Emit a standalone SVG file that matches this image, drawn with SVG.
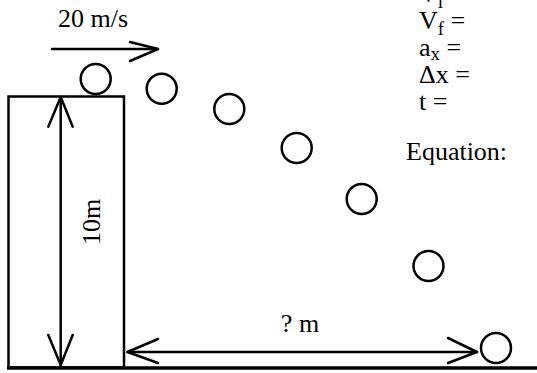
<svg xmlns="http://www.w3.org/2000/svg" width="537" height="373" viewBox="0 0 537 373">
<style>
.t{font-family:"Liberation Serif","Times New Roman",serif;font-size:26px;fill:#000}
.s{font-size:19px}
.ln{stroke:#000;stroke-width:2.5;fill:none;stroke-linecap:round;stroke-linejoin:round}
.ball{stroke:#000;stroke-width:2.5;fill:#fff}
</style>
<rect width="537" height="373" fill="#fff"/>
<g id="building">
<rect x="8.5" y="96.5" width="115.5" height="271" fill="none" stroke="#000" stroke-width="2.5"/>
</g>
<g id="ground">
<line x1="7" y1="368" x2="537" y2="368" stroke="#000" stroke-width="3.5"/>
</g>
<g id="balls">
<circle id="ball1" class="ball" cx="95.7" cy="79" r="15"/>
<circle id="ball2" class="ball" cx="161.7" cy="88.7" r="15"/>
<circle id="ball3" class="ball" cx="229.3" cy="109" r="15"/>
<circle id="ball4" class="ball" cx="296.7" cy="148" r="15"/>
<circle id="ball5" class="ball" cx="361.7" cy="199" r="15"/>
<circle id="ball6" class="ball" cx="428.5" cy="266" r="15"/>
<circle id="ball7" class="ball" cx="496" cy="348" r="15"/>
</g>
<g id="connectors">
<g id="velocity-arrow">
<line class="ln" x1="52" y1="49" x2="158" y2="49"/>
<polyline class="ln" points="130,42 158,49 130,61"/>
</g>
<g id="height-arrow">
<line class="ln" x1="60.7" y1="97" x2="60.7" y2="365"/>
<polyline class="ln" points="48.3,126.7 60.7,97 72.7,126.7"/>
<polyline class="ln" points="48.3,335 60.7,365 72.7,335"/>
</g>
<g id="distance-arrow">
<line class="ln" x1="127.5" y1="352" x2="477" y2="352"/>
<polyline class="ln" points="158,339 127.5,352 158,363"/>
<polyline class="ln" points="448,338 477,352 448,363"/>
</g>
</g>
<g id="labels">
<text class="t" x="58" y="27">20 m/s</text>
<text class="t" transform="translate(100,222) rotate(-90)" text-anchor="middle">10m</text>
<text class="t" x="300" y="332" text-anchor="middle">? m</text>
<text class="t" x="406" y="160">Equation:</text>
</g>
<g id="variables">
<text class="t" x="419" y="2">V<tspan class="s" dy="6">i</tspan></text>
<text class="t" x="419" y="29">V<tspan class="s" dy="6">f</tspan><tspan dy="-6"> =</tspan></text>
<text class="t" x="419" y="56">a<tspan class="s" dy="4">x</tspan><tspan dy="-4"> =</tspan></text>
<text class="t" x="419" y="83">Δx =</text>
<text class="t" x="419" y="110">t =</text>
</g>
</svg>
